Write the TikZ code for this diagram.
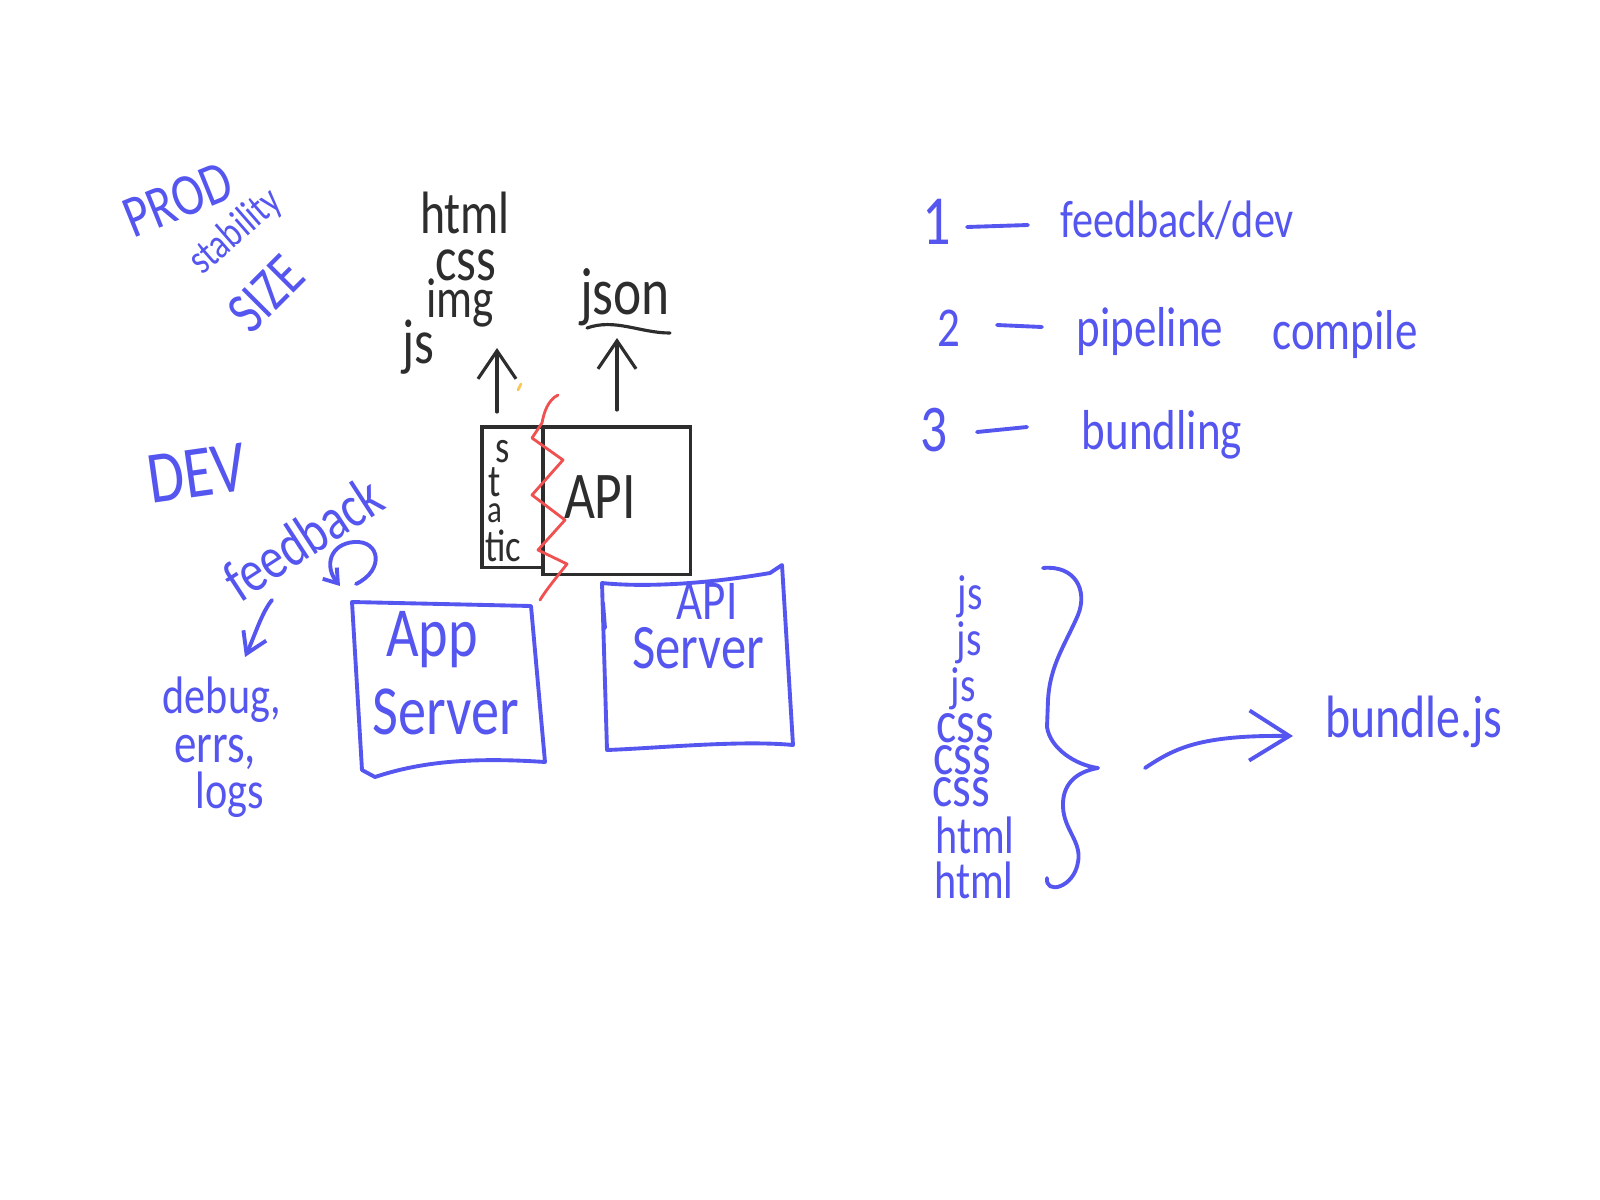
\documentclass[tikz,border=0pt]{standalone}
\usepackage{fontspec}
\newfontfamily\hand[FakeStretch=0.8]{Carlito}
\usetikzlibrary{arrows.meta}
\definecolor{hblue}{RGB}{85,85,240}
\definecolor{hblack}{RGB}{45,45,45}
\definecolor{hred}{RGB}{240,80,80}
\definecolor{horange}{RGB}{250,200,90}
\begin{document}
\begin{tikzpicture}[x=0.01cm,y=-0.01cm,
  bpen/.style={draw=hblue, line width=1.1pt, line cap=round, line join=round},
  kpen/.style={draw=hblack, line width=0.9pt, line cap=round, line join=round},
  rpen/.style={draw=hred, line width=0.8pt, line cap=round, line join=round},
  fs/.style={font=\hand\fontsize{#1}{#1}\selectfont},
  btxt/.style={inner sep=0pt, text=hblue},
  ktxt/.style={inner sep=0pt, text=hblack},
  bigbarb/.style={-{Straight Barb[length=2.8mm,width=3.8mm]}},
  midbarb/.style={-{Straight Barb[length=4mm,width=5mm]}},
  smallbarb/.style={-{Straight Barb[length=2mm,width=2.5mm]}},
  tinybarb/.style={-{Straight Barb[length=1.3mm,width=1.8mm]}},
  kbox/.style={draw=hblack, line width=0.9pt, inner sep=0pt, outer sep=0pt},
]
\useasboundingbox[fill=white] (0,0) rectangle (1600,1200);

% ---------------- top-left: PROD ----------------
\node[btxt, fs=17, rotate=22] (prod) at (178,200) {PROD};
\node[btxt, fs=12, rotate=41] (stab) at (236,232) {stability};
\node[btxt, fs=17, rotate=45] (size) at (266,294) {SIZE};

% ---------------- DEV ----------------
\node[btxt, fs=21, rotate=8] (dev) at (197,473) {DEV};
\node[btxt, fs=17, rotate=33] (fb) at (303,538) {feedback};
\coordinate (loopS) at (356,584);
\coordinate (loopE) at (340,586);
\draw[bpen, tinybarb] (loopS) .. controls (385,570) and (380,540) .. (354,542)
      .. controls (330,544) and (324,566) .. (loopE);
\coordinate (dlS) at (272,600);
\coordinate (dlE) at (245,657);
\draw[bpen, smallbarb] (dlS) .. controls (262,612) and (255,635) .. (dlE);
\node[btxt, fs=15] (debug) at (222,700) {debug,};
\node[btxt, fs=16] (errs) at (215,752) {errs,};
\node[btxt, fs=15] (logs) at (230,795) {logs};

% ---------------- black box: static / API ----------------
\node[kbox, minimum width=0.61cm, minimum height=1.40cm, anchor=north west] (static) at (482,427) {};
\node[kbox, minimum width=1.47cm, minimum height=1.47cm, anchor=north west] (api) at (static.north east) {};
\node[ktxt, fs=13] (s1) at (503,452) {s};
\node[ktxt, fs=13] (s2) at (495,482) {t};
\node[ktxt, fs=11] (s3) at (495,513) {a};
\node[ktxt, fs=13] (s4) at (503,546) {tic};
\node[ktxt, fs=19] (apit) at (600,497) {API};

% outputs
\node[ktxt, fs=17] (html) at (465,213) {html};
\node[ktxt, fs=18] (css) at (466,265) {css};
\node[ktxt, fs=16] (img) at (460,303) {img};
\node[ktxt, fs=18] (js) at (418,347) {js};
\node[ktxt, fs=19] (json) at (625,297) {json};
\draw[kpen] (587,328) .. controls (615,318) and (640,333) .. (670,333);
\coordinate (a1s) at (497,412);
\coordinate (a1e) at (497,348);
\draw[kpen, bigbarb] (a1s) -- (a1e);
\coordinate (a2s) at (617,410);
\coordinate (a2e) at (617,338);
\draw[kpen, bigbarb] (a2s) -- (a2e);
\draw[draw=horange, line width=0.8pt, line cap=round] (518,390) -- (521,384);

% red zigzag
\draw[rpen] (558,395) .. controls (548,400) and (544,412) .. (542,423)
  -- (532,438) -- (563,460) -- (532,495) -- (565,520) -- (538,550) -- (567,564)
  .. controls (556,578) and (546,590) .. (540,600);

% ---------------- App Server ----------------
\draw[bpen] (352,602) -- (531,606) -- (545,762)
  .. controls (470,757) and (420,762) .. (375,777) -- (362,770) -- cycle;
\node[btxt, fs=20] (app) at (432,640) {App};
\node[btxt, fs=20] (appsrv) at (446,712) {Server};

% ---------------- API Server ----------------
\draw[bpen] (602,583) .. controls (640,587) and (700,585) .. (770,573) -- (782,565)
  -- (793,745) .. controls (740,740) and (660,748) .. (607,750) -- cycle;
\draw[bpen] (603,603) -- (605,628);
\node[btxt, fs=16] (apisrv1) at (707,601) {API};
\node[btxt, fs=18] (apisrv2) at (698,648) {Server};

% ---------------- numbered list ----------------
\node[btxt, fs=20] (n1) at (937,222) {1};
\draw[bpen] (967,227) -- (1028,225);
\node[btxt, fs=15] (l1) at (1177,220) {feedback/dev};
\node[btxt, fs=16] (n2) at (949,328) {2};
\draw[bpen] (997,325) -- (1042,327);
\node[btxt, fs=16] (l2a) at (1150,331) {pipeline};
\node[btxt, fs=16] (l2b) at (1345,334) {compile};
\node[btxt, fs=19] (n3) at (934,430) {3};
\draw[bpen] (977,432) -- (1027,427);
\node[btxt, fs=16] (l3) at (1162,435) {bundling};

% ---------------- bundling list ----------------
\node[btxt, fs=14] (j1) at (970,597) {js};
\node[btxt, fs=14] (j2) at (969,643) {js};
\node[btxt, fs=14] (j3) at (963,689) {js};
\node[btxt, fs=17] (c1) at (965,728) {css};
\node[btxt, fs=17] (c2) at (962,760) {css};
\node[btxt, fs=17] (c3) at (961,792) {css};
\node[btxt, fs=15] (h1) at (975,835) {html};
\node[btxt, fs=15] (h2) at (974,880) {html};
\coordinate (bracetip) at (1098,768);
\draw[bpen] (1043,568) .. controls (1075,565) and (1088,590) .. (1078,615)
  .. controls (1065,645) and (1050,665) .. (1048,700) -- (1047,727)
  .. controls (1050,748) and (1075,765) .. (bracetip)
  .. controls (1075,772) and (1062,785) .. (1063,807)
  .. controls (1064,830) and (1082,842) .. (1078,862)
  .. controls (1074,888) and (1045,895) .. (1047,878);
\coordinate (bS) at (1145,768);
\coordinate (bE) at (1293,736);
\draw[bpen, midbarb] (bS) .. controls (1175,748) and (1200,735) .. (bE);
\node[btxt, fs=17] (bundle) at (1414,722) {bundle.js};
\end{tikzpicture}
\end{document}
